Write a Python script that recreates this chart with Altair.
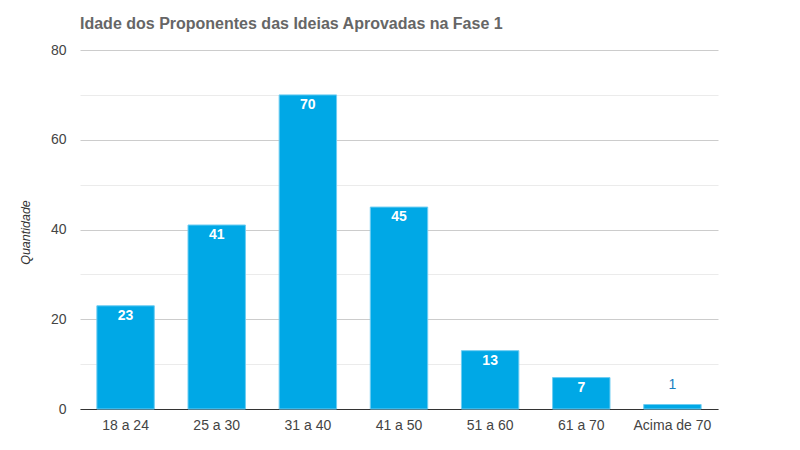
import altair as alt
import pandas as pd

categories = ["18 a 24", "25 a 30", "31 a 40", "41 a 50", "51 a 60", "61 a 70", "Acima de 70"]
values = [23, 41, 70, 45, 13, 7, 1]
y_ticks = [0, 10, 20, 30, 40, 50, 60, 70, 80]

df = pd.DataFrame({"faixa": categories, "qtd": values})
FONT = "Liberation Sans"

x = alt.X("faixa:N", sort=categories, title=None,
          scale=alt.Scale(paddingInner=0.37, paddingOuter=0.185),
          axis=alt.Axis(labelAngle=0, ticks=False, domainColor="#333333", domainWidth=1,
                        labelFont=FONT, labelFontSize=14, labelColor="#444444",
                        labelPadding=9, grid=False))
y = alt.Y("qtd:Q", title="Quantidade",
          scale=alt.Scale(domain=[0, 80], nice=False),
          axis=alt.Axis(values=y_ticks, ticks=False, domain=False,
                        labelExpr="datum.value % 20 === 0 ? datum.label : ''",
                        gridColor=alt.condition("datum.value % 20 === 0", alt.value("#cccccc"), alt.value("#ebebeb")),
                        labelFont=FONT, labelFontSize=14, labelColor="#444444", labelPadding=14,
                        titleFont=FONT, titleFontSize=12.5, titleFontStyle="italic", titleFontWeight="normal",
                        titleColor="#333333", titleX=-55, titleY=182, titleAngle=270,
                        titleAlign="center", titleBaseline="middle"))

bars = alt.Chart(df).mark_bar(color="#00a8e6", stroke="#6fcdf2", strokeWidth=1).encode(x=x, y=y)

inside = alt.Chart(df).transform_filter("datum.qtd >= 5").mark_text(
    font=FONT, fontSize=14, fontWeight="bold", color="#ffffff", baseline="middle", dy=10
).encode(x=alt.X("faixa:N", sort=categories), y="qtd:Q", text="qtd:Q")

outside = alt.Chart(df).transform_filter("datum.qtd < 5").mark_text(
    font=FONT, fontSize=14, color="#1a7fc1", baseline="middle", dy=-20
).encode(x=alt.X("faixa:N", sort=categories), y="qtd:Q", text="qtd:Q")

chart = alt.layer(bars, inside, outside).properties(
    width=638, height=359,
    background="#ffffff",
    title=alt.TitleParams("Idade dos Proponentes das Ideias Aprovadas na Fase 1",
                          anchor="start", frame="group", font=FONT, fontSize=16,
                          fontWeight="bold", color="#666666", offset=11),
    autosize=alt.AutoSizeParams(type="none"),
    padding={"left": 72, "top": 42, "right": 70, "bottom": 30},
).configure_view(strokeWidth=0, stroke=None)

chart.save("out.html", embed_options={"renderer": "svg", "actions": False})
